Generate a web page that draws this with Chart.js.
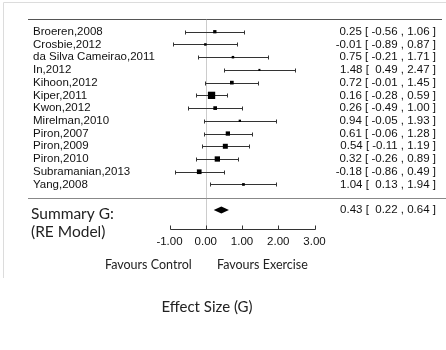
<!DOCTYPE html>
<html>
<head>
<meta charset="utf-8">
<script src="https://cdn.jsdelivr.net/npm/chart.js@4.4.0/dist/chart.umd.min.js"></script>
<style>
  html, body { margin: 0; padding: 0; background: #fff; }
  canvas { display: block; }
</style>
</head>
<body>
<canvas id="myChart" width="446" height="350"></canvas>
<script>
// dados do forest plot
const studies = ['Broeren,2008', 'Crosbie,2012', 'da Silva Cameirao,2011', 'In,2012', 'Kihoon,2012', 'Kiper,2011',
  'Kwon,2012', 'Mirelman,2010', 'Piron,2007', 'Piron,2009', 'Piron,2010', 'Subramanian,2013', 'Yang,2008'];
const estimates = [0.25, -0.01, 0.75, 1.48, 0.72, 0.16, 0.26, 0.94, 0.61, 0.54, 0.32, -0.18, 1.04];
const ciLower = [-0.56, -0.89, -0.21, 0.49, -0.01, -0.28, -0.49, -0.05, -0.06, -0.11, -0.26, -0.86, 0.13];
const ciUpper = [1.06, 0.87, 1.71, 2.47, 1.45, 0.59, 1.00, 1.93, 1.28, 1.19, 0.89, 0.49, 1.94];
const weights = [6.7, 5.1, 5.1, 4.1, 7.5, 14.8, 7.5, 4.7, 8.7, 10.1, 10.8, 9.5, 5.5];
const summaryLabel = ['Summary G:', '(RE Model)'];
const summaryEst = 0.43;
const summaryLow = 0.22;
const summaryHigh = 0.64;
const xTicks = [-1, 0, 1, 2, 3];
const xTickLabels = ['-1.00', '0.00', '1.00', '2.00', '3.00'];
const favourLabels = ['Favours Control', 'Favours Exercise'];
const axisTitle = 'Effect Size (G)';

const SUMMARY_ROW = 14;
const SEP_ROW = 13.05;
const AXIS_ROW = 15.5;

function fmt(v) {
  const s = v.toFixed(2);
  return v < 0 ? s : ' ' + s;
}
function ciText(e, lo, hi) {
  return e.toFixed(2) + ' [ ' + fmt(lo) + ' , ' + hi.toFixed(2) + ' ]';
}

const points = estimates.map((e, i) => ({ x: e, y: i }));
const radii = weights.map(w => (w * 0.493) / Math.SQRT2);

const forestPlugin = {
  id: 'forest',
  beforeDatasetsDraw(chart) {
    const { ctx, scales: { x, y } } = chart;
    const W = chart.width;
    ctx.save();
    // moldura clara
    ctx.strokeStyle = '#dcdcdc';
    ctx.lineWidth = 1;
    ctx.beginPath();
    ctx.moveTo(3.5, 2.5); ctx.lineTo(W, 2.5);
    ctx.moveTo(3.5, 2.5); ctx.lineTo(3.5, 278);
    ctx.stroke();

    // linha do topo e separador
    ctx.strokeStyle = '#555';
    ctx.beginPath();
    const yTop = Math.round(y.getPixelForValue(-1)) + 0.5;
    ctx.moveTo(28, yTop); ctx.lineTo(442, yTop);
    ctx.stroke();
    ctx.strokeStyle = '#888';
    ctx.beginPath();
    const ySep = Math.round(y.getPixelForValue(SEP_ROW)) + 0.5;
    ctx.moveTo(28, ySep); ctx.lineTo(W, ySep);
    ctx.stroke();

    // linha pontilhada no zero
    const x0 = Math.round(x.getPixelForValue(0)) + 0.5;
    ctx.strokeStyle = '#999';
    ctx.setLineDash([1, 1]);
    ctx.beginPath();
    ctx.moveTo(x0, yTop);
    ctx.lineTo(x0, y.getPixelForValue(AXIS_ROW));
    ctx.stroke();
    ctx.setLineDash([]);

    // intervalos de confiança
    ctx.strokeStyle = '#333';
    estimates.forEach((e, i) => {
      const yy = Math.round(y.getPixelForValue(i)) + 0.5;
      const xl = Math.round(x.getPixelForValue(ciLower[i])) + 0.5;
      const xh = Math.round(x.getPixelForValue(ciUpper[i])) + 0.5;
      ctx.beginPath();
      ctx.moveTo(xl, yy); ctx.lineTo(xh, yy);
      ctx.moveTo(xl, yy - 2); ctx.lineTo(xl, yy + 2);
      ctx.moveTo(xh, yy - 2); ctx.lineTo(xh, yy + 2);
      ctx.stroke();
    });
    ctx.restore();
  },
  afterDraw(chart) {
    const { ctx, scales: { x, y } } = chart;
    ctx.save();

    // diamante do resumo
    const ys = y.getPixelForValue(SUMMARY_ROW);
    ctx.fillStyle = '#000';
    ctx.beginPath();
    ctx.moveTo(x.getPixelForValue(summaryLow), ys);
    ctx.lineTo(x.getPixelForValue(summaryEst), ys - 3.5);
    ctx.lineTo(x.getPixelForValue(summaryHigh), ys);
    ctx.lineTo(x.getPixelForValue(summaryEst), ys + 3.5);
    ctx.closePath();
    ctx.fill();

    // eixo x
    const yAxis = Math.round(y.getPixelForValue(AXIS_ROW)) + 0.5;
    ctx.strokeStyle = '#333';
    ctx.beginPath();
    ctx.moveTo(Math.round(x.getPixelForValue(xTicks[0])) + 0.5, yAxis);
    ctx.lineTo(Math.round(x.getPixelForValue(xTicks[xTicks.length - 1])) + 0.5, yAxis);
    xTicks.forEach(t => {
      const xt = Math.round(x.getPixelForValue(t)) + 0.5;
      ctx.moveTo(xt, yAxis);
      ctx.lineTo(xt, yAxis - 4);
    });
    ctx.stroke();

    ctx.fillStyle = '#111';
    ctx.textBaseline = 'middle';
    ctx.font = '11.5px "Liberation Sans", Arial, sans-serif';
    ctx.textAlign = 'center';
    xTicks.forEach((t, i) => {
      ctx.fillText(xTickLabels[i], x.getPixelForValue(t), yAxis + 12);
    });

    // nomes dos estudos e valores
    studies.forEach((s, i) => {
      const yy = y.getPixelForValue(i);
      ctx.textAlign = 'left';
      ctx.fillText(s, 33, yy);
      ctx.textAlign = 'right';
      ctx.fillText(ciText(estimates[i], ciLower[i], ciUpper[i]), 436, yy);
    });
    ctx.fillText(ciText(summaryEst, summaryLow, summaryHigh), 436, ys);

    // textos em fonte tipo Calibri
    ctx.fillStyle = '#222';
    ctx.textAlign = 'left';
    ctx.font = '15.5px Lato, sans-serif';
    ctx.fillText(summaryLabel[0], 31, ys + 4);
    ctx.fillText(summaryLabel[1], 31, ys + 22);

    ctx.font = '12.5px Lato, sans-serif';
    ctx.fillText(favourLabels[0], 105, yAxis + 35);
    ctx.fillText(favourLabels[1], 217, yAxis + 35);

    ctx.textAlign = 'center';
    ctx.font = '15px Lato, sans-serif';
    ctx.fillText(axisTitle, 207, yAxis + 78);
    ctx.restore();
  }
};

const ctx = document.getElementById('myChart');
new Chart(ctx, {
  type: 'scatter',
  data: {
    datasets: [{
      data: points,
      pointStyle: 'rect',
      pointRadius: radii,
      pointBackgroundColor: '#000',
      pointBorderWidth: 0,
      clip: false
    }]
  },
  options: {
    responsive: false,
    animation: false,
    layout: { padding: { left: 169.5, right: 131.5, top: 19, bottom: 121 } },
    plugins: { legend: { display: false }, tooltip: { enabled: false } },
    scales: {
      x: { type: 'linear', min: -1, max: 3, display: false },
      y: { type: 'linear', min: -1, max: AXIS_ROW, reverse: true, display: false }
    }
  },
  plugins: [forestPlugin]
});
</script>
</body>
</html>
